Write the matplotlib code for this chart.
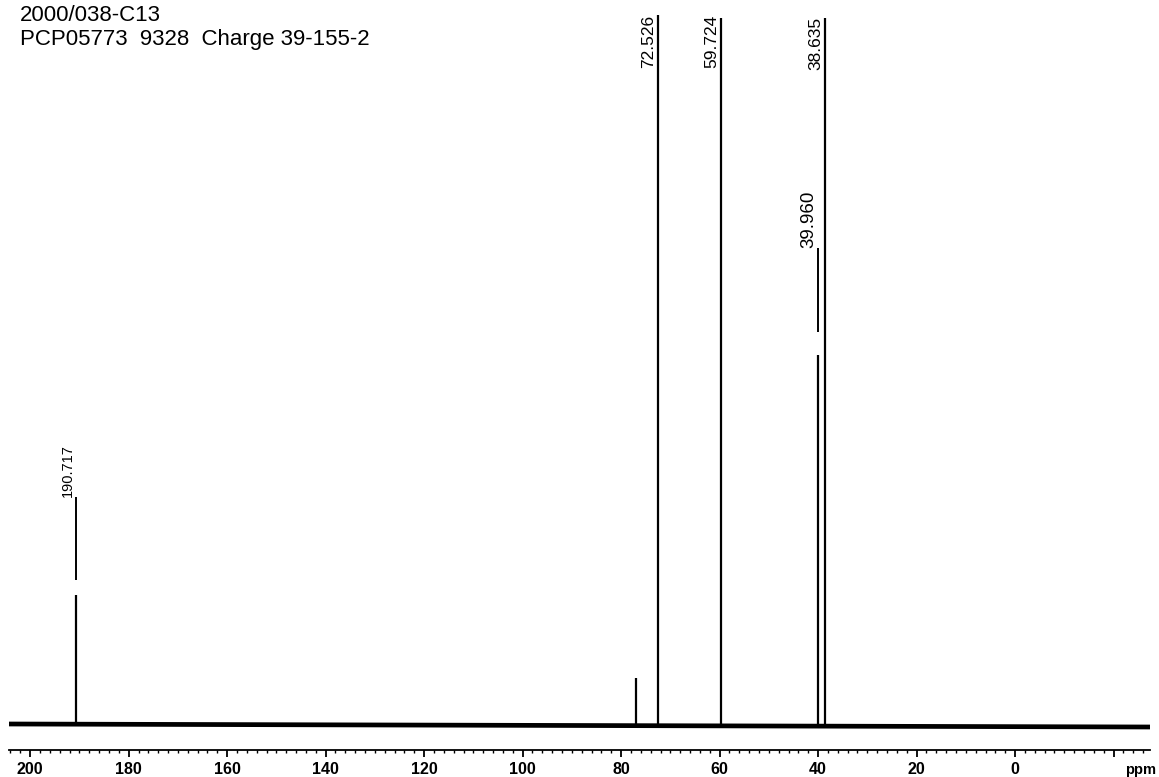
import matplotlib
matplotlib.use("Agg")
import matplotlib.pyplot as plt
from matplotlib.ticker import MultipleLocator, FixedLocator, FixedFormatter

title_lines = ["2000/038-C13", "PCP05773  9328  Charge 39-155-2"]

# peaks: shift (ppm) and height above the baseline
peak_ppm = [190.717, 77.0, 72.526, 59.724, 39.960, 38.635]
peak_height = [130, 47, 710, 707, 370, 707]

# baseline end points (ppm, height)
base_ppm = [204.3, -27.4]
base_height = [1, -2]

# peak labels, where the label sits and where its connector stops
label_ppm = [190.717, 72.526, 59.724, 39.960, 38.635]
label_text = ["190.717", "72.526", "59.724", "39.960", "38.635"]
label_foot = [228, 657, 657, 477, 655]
connector_end = [145, 657, 657, 393, 655]

tick_values = [200, 180, 160, 140, 120, 100, 80, 60, 40, 20, 0, -20]
tick_labels = ["200", "180", "160", "140", "120", "100", "80", "60", "40", "20", "0", ""]


def main():
    W, H = 1159, 777
    fig = plt.figure(figsize=(W / 100, H / 100), dpi=100)
    fig.patch.set_facecolor("white")

    ax = fig.add_axes([9 / W, 27 / H, 1141 / W, 750 / H])
    ax.set_xlim(base_ppm[0], base_ppm[1])
    ax.set_ylim(-25, 725)

    # baseline (noisy in the scan, drawn as a heavy line)
    ax.plot(base_ppm, base_height, color="black", lw=3.4, solid_capstyle="butt")

    # peaks
    ax.vlines(peak_ppm, 0, peak_height, color="black", lw=1.6)

    # label connectors
    ax.vlines(label_ppm, connector_end, label_foot, color="black", lw=1.4)

    sizes = [10.5, 12.5, 12.5, 13.5, 12.5]
    for p, t, f, s in zip(label_ppm, label_text, label_foot, sizes):
        ax.annotate(t, xy=(p, f), xytext=(-1.0, 0), textcoords="offset points",
                    rotation=90, ha="right", va="bottom", fontsize=s,
                    family="Liberation Sans", color="black")

    for s in ["top", "left", "right"]:
        ax.spines[s].set_visible(False)
    ax.spines["bottom"].set_linewidth(1.3)
    ax.set_yticks([])
    ax.xaxis.set_major_locator(FixedLocator(tick_values))
    ax.xaxis.set_major_formatter(FixedFormatter(tick_labels))
    ax.xaxis.set_minor_locator(MultipleLocator(2))
    ax.tick_params(axis="x", which="major", direction="out", length=5, width=1.3, pad=4)
    ax.tick_params(axis="x", which="minor", direction="out", length=2.5, width=1.0)
    for lab in ax.get_xticklabels():
        lab.set_fontfamily("Liberation Sans")
        lab.set_fontweight("bold")
        lab.set_fontsize(11.5)
    ax.patch.set_visible(False)

    fig.text(1141 / W, 1 - 770 / H, "ppm", ha="center", va="center",
             fontsize=10.5, fontweight="bold", family="Liberation Sans")

    fig.text(20 / W, 1 - 5 / H, title_lines[0], ha="left", va="top",
             fontsize=16, family="Liberation Sans")
    fig.text(20 / W, 1 - 29 / H, title_lines[1], ha="left", va="top",
             fontsize=16, family="Liberation Sans")

    fig.savefig("out.png", dpi=100, facecolor="white")


if __name__ == "__main__":
    main()
